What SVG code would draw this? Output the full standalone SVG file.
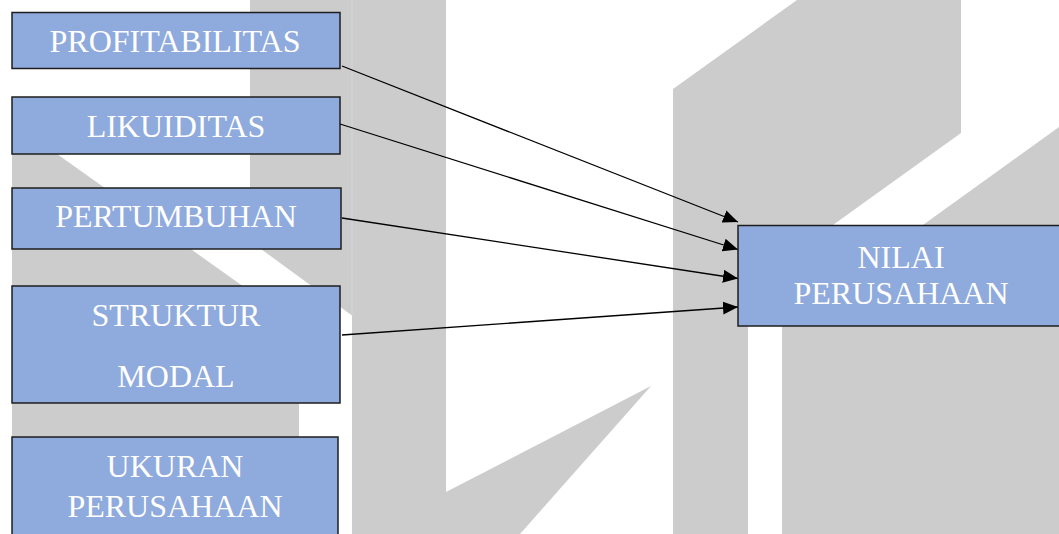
<svg xmlns="http://www.w3.org/2000/svg" width="1059" height="534" viewBox="0 0 1059 534">
  <style>
    .bg { fill: #cccccc; }
    .seam { stroke: #d6d6d6; stroke-width: 1; }
    .node rect { fill: #8faadc; stroke: #1e1e1e; stroke-width: 1.5; }
    .node text { fill: #ffffff; font-family: "Liberation Serif", "Times New Roman", serif; font-size: 32px; text-anchor: middle; }
    .edge { fill: none; stroke: #000000; stroke-width: 1.3; marker-end: url(#arrow); }
  </style>
  <defs>
    <marker id="arrow" markerUnits="userSpaceOnUse" markerWidth="16" markerHeight="14" refX="15" refY="6.5" orient="auto">
      <path d="M0,0 L15,6.5 L0,13 z" fill="#000000"/>
    </marker>
  </defs>

  <rect width="1059" height="534" fill="#ffffff"/>

  <!-- background emblem shapes -->
  <g id="emblem">
    <polygon class="bg" points="12,122 299,326 299,534 12,534"/>
    <polygon class="bg" points="250,0 446,0 446,534 352,534 352,315.5 250,241"/>
    <line class="seam" x1="352" y1="0" x2="352" y2="315"/>
    <polygon class="bg" points="446,492 651,386 520,534 446,534"/>
    <polygon class="bg" points="673,89 797,0 961,0 961,133 748,286 748,534 673,534"/>
    <polygon class="bg" points="782,326.5 1059,127 1059,534 782,534"/>
  </g>

  <!-- connectors -->
  <g id="connectors">
    <line class="edge" x1="342" y1="66" x2="738" y2="222"/>
    <line class="edge" x1="340" y1="124" x2="738" y2="249.5"/>
    <line class="edge" x1="342" y1="218" x2="738" y2="278.5"/>
    <line class="edge" x1="342" y1="335" x2="738" y2="307"/>
  </g>

  <g id="profitabilitas" class="node">
    <rect x="12" y="12.5" width="328" height="56"/>
    <text x="175" y="52">PROFITABILITAS</text>
  </g>

  <g id="likuiditas" class="node">
    <rect x="12" y="97" width="328" height="57"/>
    <text x="176" y="137">LIKUIDITAS</text>
  </g>

  <g id="pertumbuhan" class="node">
    <rect x="12" y="188" width="329" height="61"/>
    <text x="176" y="227">PERTUMBUHAN</text>
  </g>

  <g id="struktur-modal" class="node">
    <rect x="12" y="286" width="328" height="117"/>
    <text x="176" y="326">STRUKTUR</text>
    <text x="176" y="387">MODAL</text>
  </g>

  <g id="ukuran-perusahaan" class="node">
    <rect x="12" y="437" width="326" height="110"/>
    <text x="175" y="477">UKURAN</text>
    <text x="175" y="517">PERUSAHAAN</text>
  </g>

  <g id="nilai-perusahaan" class="node">
    <rect x="738" y="225.5" width="330" height="100.5"/>
    <text x="901" y="268">NILAI</text>
    <text x="901" y="304">PERUSAHAAN</text>
  </g>
</svg>
